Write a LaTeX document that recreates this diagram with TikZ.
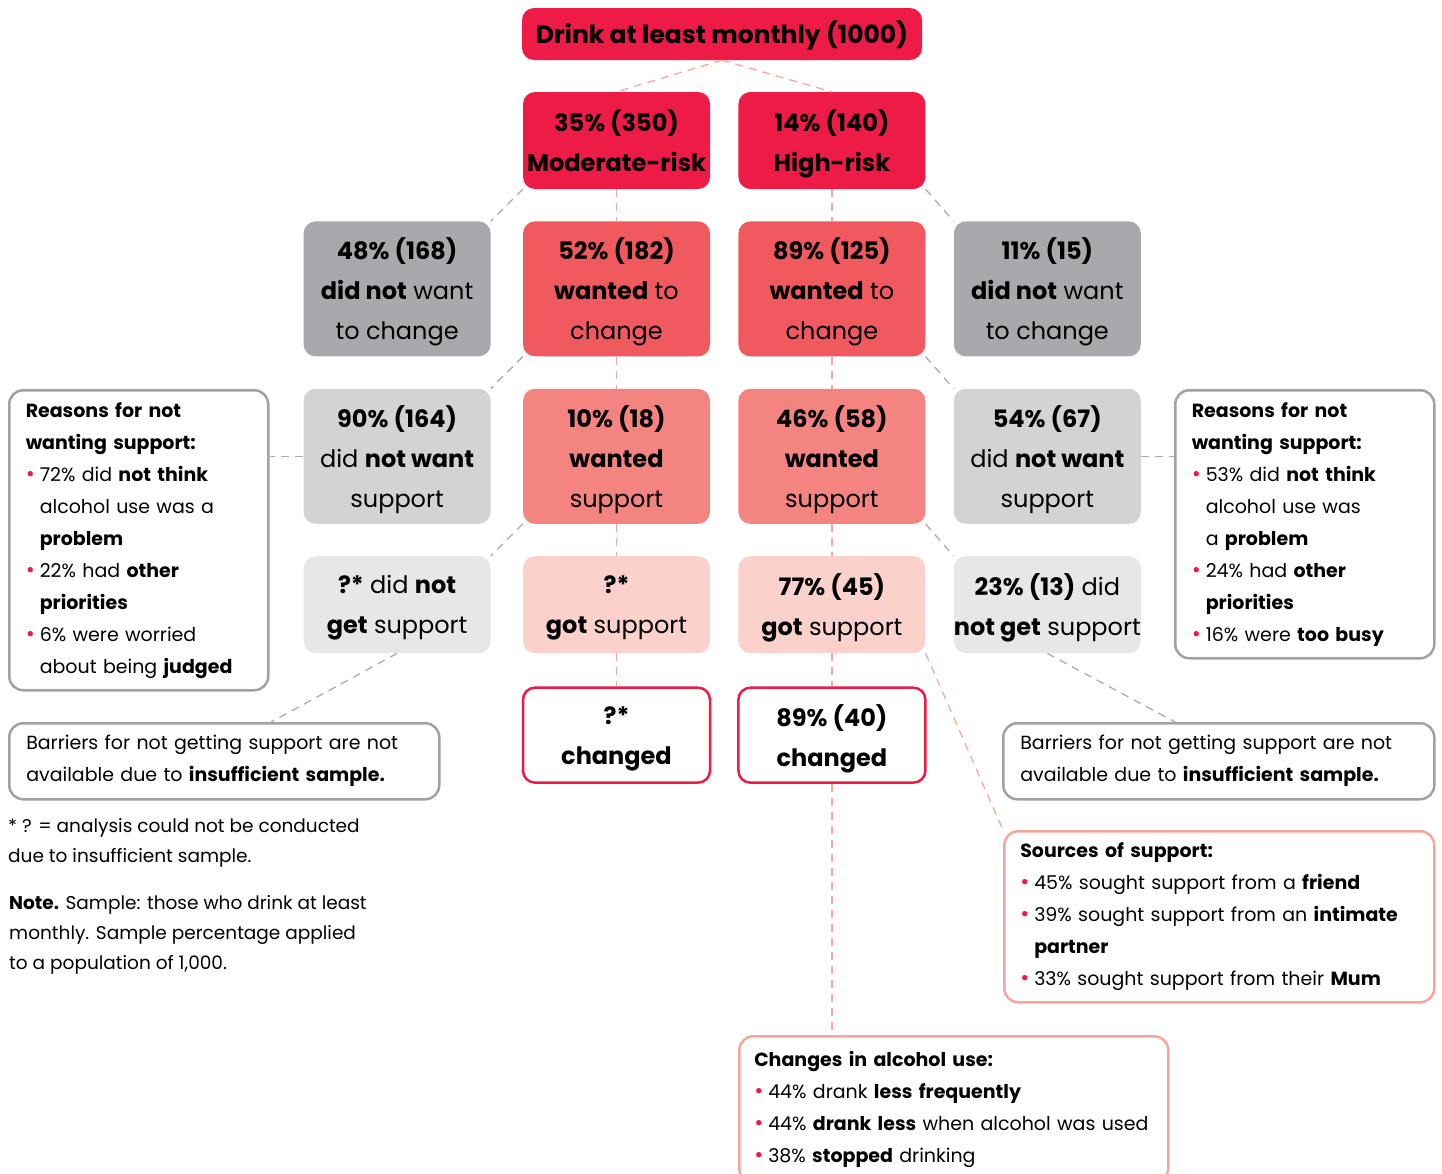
\documentclass[tikz,border=0pt]{standalone}
\usepackage{fontspec}
\setmainfont{Poppins}
\usetikzlibrary{positioning}
\definecolor{crimson}{RGB}{238,27,71}
\definecolor{coral}{RGB}{240,90,95}
\definecolor{salmon}{RGB}{244,132,127}
\definecolor{blush}{RGB}{250,210,203}
\definecolor{greyA}{RGB}{167,169,172}
\definecolor{greyB}{RGB}{209,211,212}
\definecolor{greyC}{RGB}{230,231,232}
\definecolor{rimgrey}{RGB}{160,162,165}
\definecolor{rimpink}{RGB}{245,165,155}
\definecolor{linkgrey}{RGB}{170,172,175}
\definecolor{linkpink}{RGB}{246,168,158}
\newcommand\bul{\makebox[14pt][l]{\textcolor{crimson}{\fontsize{22}{22}\selectfont\textbullet}}}
\newcommand\ind{\hspace*{14pt}}
\tikzset{cell/.style={rounded corners=12pt,minimum width=187pt,inner sep=0pt,align=center,text depth=0pt,font=\fontsize{24}{40}\selectfont}}
\tikzset{tall/.style={cell,minimum height=135pt}}
\tikzset{short/.style={cell,minimum height=97pt}}
\tikzset{panel/.style={rounded corners=14pt,draw=rimgrey,line width=2.5pt,fill=white,inner sep=0pt,align=left,anchor=north west,font=\fontsize{19}{32}\selectfont}}
\tikzset{greylink/.style={draw=linkgrey,line width=1.3pt,dash pattern=on 8pt off 6pt}}
\tikzset{pinklink/.style={draw=linkpink,line width=1.3pt,dash pattern=on 8pt off 6pt}}
\begin{document}
\begin{tikzpicture}[x=1pt,y=-1pt,node distance=32pt and 28pt]
        \useasboundingbox (0,0) rectangle (1442,1173);
        % groups
        \node(all)[cell,fill=crimson,minimum width=400pt,minimum height=52pt,text depth=4pt,font=\fontsize{25}{40}\selectfont] at (722,34){\textbf{Drink at least monthly (1000)}};
        \node(mod)[short,fill=crimson] at (616.5,140.5){\textbf{35\% (350)}\\\textbf{Moderate-risk}};
        \node(high)[short,fill=crimson,right=of mod]{\textbf{14\% (140)}\\\textbf{High-risk}};
        % wanted to change
        \node(wcM)[tall,fill=coral,below=of mod]{\textbf{52\% (182)}\\\textbf{wanted} to\\change};
        \node(wcH)[tall,fill=coral,below=of high]{\textbf{89\% (125)}\\\textbf{wanted} to\\change};
        \node(ncL)[tall,fill=greyA,left=32pt of wcM]{\textbf{48\% (168)}\\\textbf{did not} want\\to change};
        \node(ncR)[tall,fill=greyA,right=of wcH]{\textbf{11\% (15)}\\\textbf{did not} want\\to change};
        % wanted support
        \node(wsM)[tall,fill=salmon,below=of wcM]{\textbf{10\% (18)}\\\textbf{wanted}\\support};
        \node(wsH)[tall,fill=salmon,below=of wcH]{\textbf{46\% (58)}\\\textbf{wanted}\\support};
        \node(nwsL)[tall,fill=greyB,below=of ncL]{\textbf{90\% (164)}\\did \textbf{not want}\\support};
        \node(nwsR)[tall,fill=greyB,below=of ncR]{\textbf{54\% (67)}\\did \textbf{not want}\\support};
        % got support
        \node(gsM)[short,fill=blush,below=of wsM]{\textbf{?*}\\\textbf{got} support};
        \node(gsH)[short,fill=blush,below=of wsH]{\textbf{77\% (45)}\\\textbf{got} support};
        \node(ngsL)[short,fill=greyC,below=of nwsL]{\textbf{?*} did \textbf{not}\\\textbf{get} support};
        \node(ngsR)[short,fill=greyC,below=of nwsR]{\textbf{23\% (13)} did\\\textbf{not get} support};
        % changed
        \node(chM)[cell,draw=crimson,line width=2.5pt,fill=white,minimum height=95pt,below=33pt of gsM]{\textbf{?*}\\\textbf{changed}};
        \node(chH)[cell,draw=crimson,line width=2.5pt,fill=white,minimum height=95pt,below=33pt of gsH]{\textbf{89\% (40)}\\\textbf{changed}};
        % side panels
        \node(rsL)[panel,minimum width=259pt,minimum height=300pt,text width=226pt] at (8,389){\textbf{Reasons for not}\\
          \textbf{wanting support:}\\
          \bul 72\% did \textbf{not think}\\
          \ind alcohol use was a\\
          \ind\textbf{problem}\\
          \bul 22\% had \textbf{other}\\
          \ind\textbf{priorities}\\
          \bul 6\% were worried\\
          \ind about being \textbf{judged}};
        \node(rsR)[panel,minimum width=259pt,minimum height=268pt,text width=226pt] at (1174,389){\textbf{Reasons for not}\\
          \textbf{wanting support:}\\
          \bul 53\% did \textbf{not think}\\
          \ind alcohol use was\\
          \ind a \textbf{problem}\\
          \bul 24\% had \textbf{other}\\
          \ind\textbf{priorities}\\
          \bul 16\% were \textbf{too busy}};
        \node(barL)[panel,minimum width=430pt,minimum height=76pt,text width=396pt] at (8,722){Barriers for not getting support are not\\available due to \textbf{insufficient sample.}};
        \node(barR)[panel,minimum width=431pt,minimum height=76pt,text width=397pt] at (1002,722){Barriers for not getting support are not\\available due to \textbf{insufficient sample.}};
        \node(src)[panel,draw=rimpink,minimum width=430pt,minimum height=171pt,text width=398pt] at (1003,830){\textbf{Sources of support:}\\
          \bul 45\% sought support from a \textbf{friend}\\
          \bul 39\% sought support from an \textbf{intimate}\\
          \ind\textbf{partner}\\
          \bul 33\% sought support from their \textbf{Mum}};
        \node(chg)[panel,draw=rimpink,minimum width=429pt,minimum height=146pt,text width=399pt] at (738,1035){\textbf{Changes in alcohol use:}\\
          \bul 44\% drank \textbf{less frequently}\\
          \bul 44\% \textbf{drank less} when alcohol was used\\
          \bul 38\% \textbf{stopped} drinking};
        % notes
        \node(fn)[anchor=north west,inner sep=0pt,align=left,font=\fontsize{18.5}{30}\selectfont] at (8,818){* ? = analysis could not be conducted\\due to insufficient sample.};
        \node(note)[anchor=north west,inner sep=0pt,align=left,font=\fontsize{18.5}{30}\selectfont] at (9,895){\textbf{Note.} Sample: those who drink at least\\monthly. Sample percentage applied\\to a population of 1,000.};
        % links
        \draw[pinklink]
        (all.south) edge (mod.north) (all.south) edge (high.north)
        (mod.south) edge (wcM.north) (wcM.south) edge (wsM.north)
        (wsM.south) edge (gsM.north) (gsM.south) edge (chM.north)
        (high.south) edge (wcH.north) (wcH.south) edge (wsH.north)
        (wsH.south) edge (gsH.north) (gsH.south) edge (chH.north)
        (chH.south) edge (chH.south |- chg.north)
        (gsH.south east) edge (src.north west);
        \draw[greylink]
        (mod.south west) edge (ncL.north east) (wcM.south west) edge (nwsL.north east)
        (wsM.south west) edge (ngsL.north east)
        (high.south east) edge (ncR.north west) (wcH.south east) edge (nwsR.north west)
        (wsH.south east) edge (ngsR.north west)
        (nwsL.west) edge (nwsL.west -| rsL.east) (nwsR.east) edge (nwsR.east -| rsR.west)
        (ngsL.south) edge (barL.40) (ngsR.south) edge (barR.138);
      \end{tikzpicture}
\end{document}
